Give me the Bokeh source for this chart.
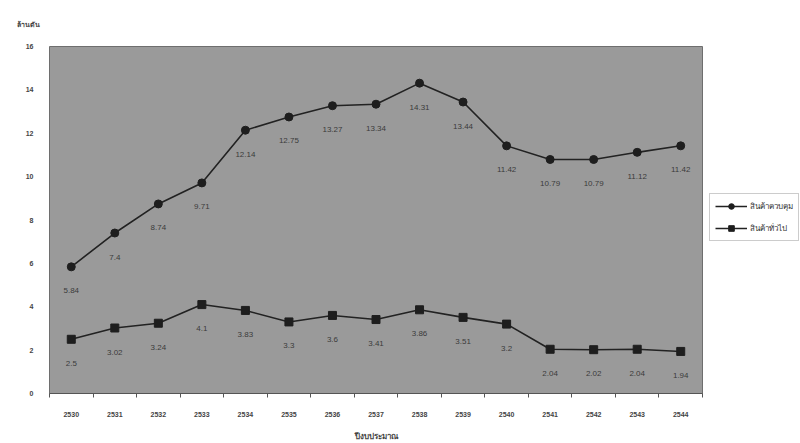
from bokeh.plotting import figure
from bokeh.layouts import row
from bokeh.models import (ColumnDataSource, FixedTicker, Legend, LegendItem,
                          LabelSet, Title)
from bokeh.core.properties import value
from bokeh.embed import file_html
from bokeh.resources import INLINE

# Fiscal years (Buddhist era)
years = [2530, 2531, 2532, 2533, 2534, 2535, 2536, 2537, 2538, 2539,
         2540, 2541, 2542, 2543, 2544]
controlled = [5.84, 7.4, 8.74, 9.71, 12.14, 12.75, 13.27, 13.34, 14.31, 13.44,
              11.42, 10.79, 10.79, 11.12, 11.42]
general = [2.5, 3.02, 3.24, 4.1, 3.83, 3.3, 3.6, 3.41, 3.86, 3.51,
           3.2, 2.04, 2.02, 2.04, 1.94]
series_names = ["สินค้าควบคุม", "สินค้าทั่วไป"]
y_title = "ล้านตัน"
x_title = "ปีงบประมาณ"

FONT = "Liberation Sans"
THAI = "Noto Sans"
LINE = "#222222"
MARK = "#1e1e1e"

src_a = ColumnDataSource(dict(x=years, y=controlled,
                              t=[f"{v:g}" for v in controlled]))
src_b = ColumnDataSource(dict(x=years, y=general,
                              t=[f"{v:g}" for v in general]))

p = figure(width=703, height=443, output_backend="svg", toolbar_location=None,
           x_range=(years[0] - 0.5, years[-1] + 0.5), y_range=(0, 16),
           min_border_left=49, min_border_right=1, min_border_top=46,
           min_border_bottom=48)
p.border_fill_color = "white"
p.background_fill_color = "#9a9a9a"
p.outline_line_color = "#6e6e6e"
p.grid.visible = False

# unit caption at the top left, above the value axis
p.title = Title(text=y_title, align="left", offset=-33, standoff=35,
                text_font=THAI, text_font_size="7px", text_font_style="bold",
                text_color="#444444")

# x axis: labels at the years, small ticks on the category boundaries
p.xaxis.ticker = FixedTicker(ticks=years,
                             minor_ticks=[y - 0.5 for y in years] + [years[-1] + 0.5])
p.xaxis.major_tick_line_color = None
p.xaxis.minor_tick_out = 4
p.xaxis.minor_tick_in = 0
p.xaxis.minor_tick_line_color = "#555555"
p.xaxis.axis_line_color = "#555555"
p.xaxis.major_label_text_font = FONT
p.xaxis.major_label_text_font_size = "7px"
p.xaxis.major_label_text_font_style = "bold"
p.xaxis.major_label_text_color = "#444444"
p.xaxis.major_label_standoff = 12
p.xaxis.axis_label = x_title
p.xaxis.axis_label_text_font = THAI
p.xaxis.axis_label_text_font_size = "8px"
p.xaxis.axis_label_text_font_style = "bold"
p.xaxis.axis_label_text_color = "#444444"
p.xaxis.axis_label_standoff = 10

p.yaxis.ticker = FixedTicker(ticks=list(range(0, 17, 2)))
p.yaxis.axis_line_color = None
p.yaxis.major_tick_line_color = None
p.yaxis.minor_tick_line_color = None
p.yaxis.major_label_text_font = FONT
p.yaxis.major_label_text_font_size = "7px"
p.yaxis.major_label_text_font_style = "bold"
p.yaxis.major_label_text_color = "#444444"
p.yaxis.major_label_standoff = 10

p.line("x", "y", source=src_a, line_color=LINE, line_width=1.6)
p.scatter("x", "y", source=src_a, marker="circle", size=8,
          fill_color=MARK, line_color=MARK)
p.line("x", "y", source=src_b, line_color=LINE, line_width=1.6)
p.scatter("x", "y", source=src_b, marker="square", size=8,
          fill_color=MARK, line_color=MARK)

for src in (src_a, src_b):
    p.add_layout(LabelSet(x="x", y="y", text="t", source=src,
                          y_offset=-24, text_align="center",
                          text_baseline="middle",
                          text_font=value(FONT), text_font_size="8px",
                          text_color="#3a3a3a"))

# legend strip to the right of the chart; its renderers reuse the series
# sources but fall outside this strip's (0, 1) ranges, so only the key shows
lg = figure(width=97, height=443, output_backend="svg", toolbar_location=None,
            x_axis_location=None, y_axis_location=None, min_border=0,
            x_range=(0, 1), y_range=(0, 1))
lg.outline_line_color = None
lg.grid.visible = False
lg.background_fill_color = "white"
lg.border_fill_color = "white"
la = lg.line("x", "y", source=src_a, line_color=LINE, line_width=1.6)
ma = lg.scatter("x", "y", source=src_a, marker="circle", size=8,
                fill_color=MARK, line_color=MARK)
lb = lg.line("x", "y", source=src_b, line_color=LINE, line_width=1.6)
mb = lg.scatter("x", "y", source=src_b, marker="square", size=8,
                fill_color=MARK, line_color=MARK)
legend = Legend(items=[LegendItem(label=series_names[0], renderers=[la, ma]),
                       LegendItem(label=series_names[1], renderers=[lb, mb])],
                location=(6, 152), label_text_font=THAI,
                label_text_font_size="8px", label_text_color="#333333",
                glyph_width=32, glyph_height=14, spacing=8, padding=5,
                label_standoff=3, margin=0,
                background_fill_color="white", background_fill_alpha=1,
                border_line_color="#999999", border_line_width=1)
lg.add_layout(legend, "center")

page = row(p, lg, spacing=0)
open("out.html", "w").write(file_html(page, INLINE))
